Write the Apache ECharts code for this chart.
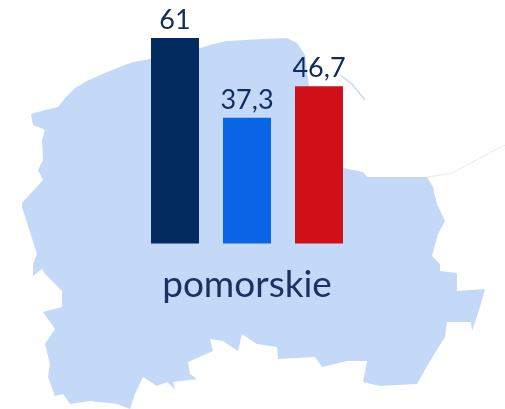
<!DOCTYPE html>
<html><head><meta charset="utf-8">
<style>html,body{margin:0;padding:0;background:#fff}#c{width:505px;height:409px}</style>
<script src="https://cdn.jsdelivr.net/npm/echarts@6/dist/echarts.min.js"></script>
</head><body><div id="c"></div>
<script>
const categories = ['pomorskie'];
const seriesNames = ['A', 'B', 'C'];
const seriesValues = [[61], [37.3], [46.7]];
const seriesColors = ['#032b60', '#0a64e6', '#d2101a'];
const regionOutline = [[31,114],[45,110],[58,107],[66,97],[75,88],[87,81],[100,75],[117,68],[133,62],[150,59],[175,54],[200,48],[213,44],[227,41],[245,40],[263,39],[287,38],[297,43],[305,55],[309,86],[320,130],[343,168],[363,172],[367,177],[427,177],[433,187],[437,204],[445,221],[438,234],[432,256],[440,264],[440,271],[457,273],[457,291],[485,289],[480,307],[472,331],[471,322],[447,322],[445,337],[430,361],[417,384],[380,386],[363,382],[367,361],[347,361],[322,367],[315,357],[278,359],[277,347],[257,344],[242,334],[238,351],[223,341],[210,339],[213,351],[188,362],[190,374],[197,379],[173,382],[175,389],[167,382],[157,386],[143,377],[135,394],[130,409],[117,404],[90,401],[70,404],[63,394],[55,396],[48,377],[50,364],[45,344],[55,329],[43,312],[62,307],[62,291],[45,274],[42,269],[33,276],[33,264],[37,254],[22,207],[22,203],[43,180],[38,170],[43,160],[42,140],[45,130],[33,125]];
const spitLine = [[340,75],[352,84],[365,100]];
const borderLine = [[427,177],[452,173],[480,158],[505,145]];

const chart = echarts.init(document.getElementById('c'), null, {renderer: 'canvas'});
chart.setOption({
  animation: false,
  backgroundColor: '#ffffff',
  graphic: [
    {type: 'polygon', z: 0, shape: {points: regionOutline}, style: {fill: '#c4d9f7'}},
    {type: 'polyline', z: 0, shape: {points: spitLine}, style: {stroke: '#c4d9f7', lineWidth: 1.5, fill: null}},
    {type: 'polyline', z: 0, shape: {points: borderLine}, style: {stroke: '#e4e9f4', lineWidth: 1, fill: null}}
  ],
  grid: {left: 139, width: 216, top: 38, height: 205.5},
  xAxis: {
    type: 'category', data: categories,
    axisLine: {show: false}, axisTick: {show: false},
    axisLabel: {color: '#1b3260', fontFamily: 'Lato', fontSize: 37, margin: 23}
  },
  yAxis: {type: 'value', min: 0, max: 61, show: false, splitLine: {show: false}},
  series: seriesNames.map((name, i) => ({
    name, type: 'bar', data: seriesValues[i], barWidth: 48, barGap: '50%',
    itemStyle: {color: seriesColors[i]},
    label: {
      show: true, position: 'top', distance: 4, color: '#0f2c5e', fontFamily: 'Lato', fontSize: 27,
      formatter: p => String(p.value).replace('.', ',')
    }
  }))
});
</script></body></html>
